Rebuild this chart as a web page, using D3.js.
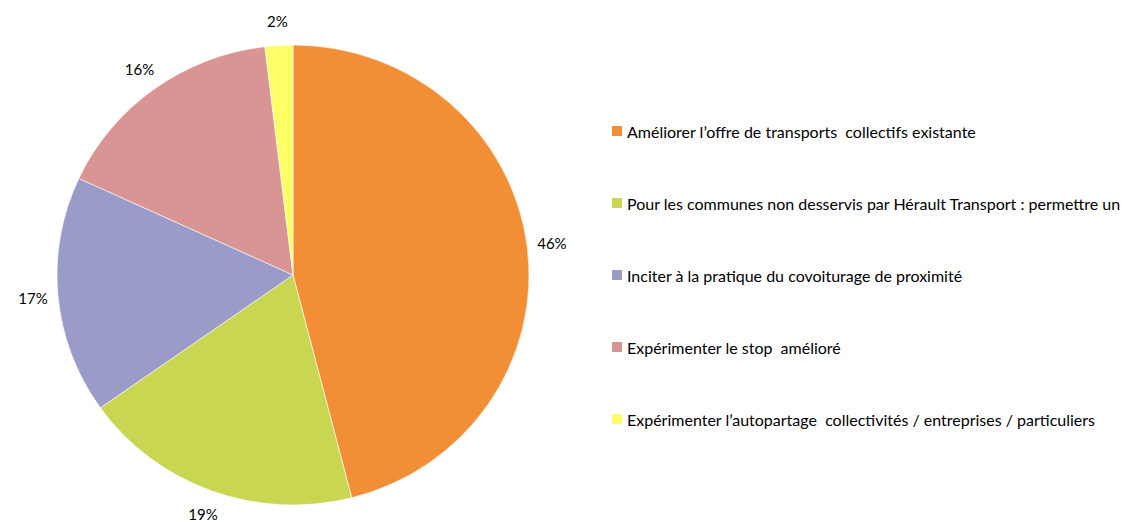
<!DOCTYPE html>
<html>
<head>
<meta charset="utf-8">
<script src="https://cdn.jsdelivr.net/npm/d3@7"></script>
<style>
  body { margin: 0; background: #fff; overflow: hidden; }
  text { font-family: Lato, "Open Sans", sans-serif; fill: #000; white-space: pre; }
</style>
</head>
<body>
<svg id="chart" width="1129" height="522"></svg>
<script>
// categories + shares (percent)
const categories = [
  "Améliorer l’offre de transports  collectifs existante",
  "Pour les communes non desservis par Hérault Transport : permettre un",
  "Inciter à la pratique du covoiturage de proximité",
  "Expérimenter le stop  amélioré",
  "Expérimenter l’autopartage  collectivités / entreprises / particuliers"
];
const values = [46.0, 19.2, 16.7, 16.2, 1.9];
const colors = ["#F28E35", "#C9D652", "#9B9BC9", "#D99594", "#FFFF66"];

const width = 1129, height = 522;
const cx = 293, cy = 275;
const rx = 236, ry = 230;   // pie is a bit squashed vertically
const labelR = 261;

const svg = d3.select("#chart");

const pie = d3.pie().sort(null).value(d => d)(values);

const arc = d3.arc().innerRadius(0).outerRadius(rx);
const labelArc = d3.arc().innerRadius(labelR).outerRadius(labelR);

const g = svg.append("g")
  .attr("transform", "translate(" + cx + "," + cy + ") scale(1," + (ry / rx) + ")");

g.selectAll("path.slice")
  .data(pie)
  .enter()
  .append("path")
  .attr("class", "slice")
  .attr("d", arc)
  .attr("fill", (d, i) => colors[i])
  .attr("stroke", "#fff")
  .attr("stroke-width", 0.6);

// labels drawn outside the squash so the text isn't distorted
svg.append("g")
  .selectAll("text.pct")
  .data(pie)
  .enter()
  .append("text")
  .attr("class", "pct")
  .attr("x", d => cx + labelArc.centroid(d)[0])
  .attr("y", d => cy + labelArc.centroid(d)[1] * ry / rx)
  .attr("text-anchor", "middle")
  .attr("dominant-baseline", "central")
  .attr("font-size", 15)
  .text(d => Math.round(d.data) + "%");

// legend
const legendY = d3.scalePoint()
  .domain(d3.range(categories.length))
  .range([131, 419]);

const legend = svg.append("g")
  .selectAll("g.item")
  .data(categories)
  .enter()
  .append("g")
  .attr("class", "item")
  .attr("transform", (d, i) => "translate(612," + legendY(i) + ")");

legend.append("rect")
  .attr("x", 0)
  .attr("y", -5)
  .attr("width", 10)
  .attr("height", 10)
  .attr("fill", (d, i) => colors[i]);

legend.append("text")
  .attr("x", 15)
  .attr("y", 0)
  .attr("dominant-baseline", "central")
  .attr("font-size", 16)
  .text(d => d);
</script>
</body>
</html>
